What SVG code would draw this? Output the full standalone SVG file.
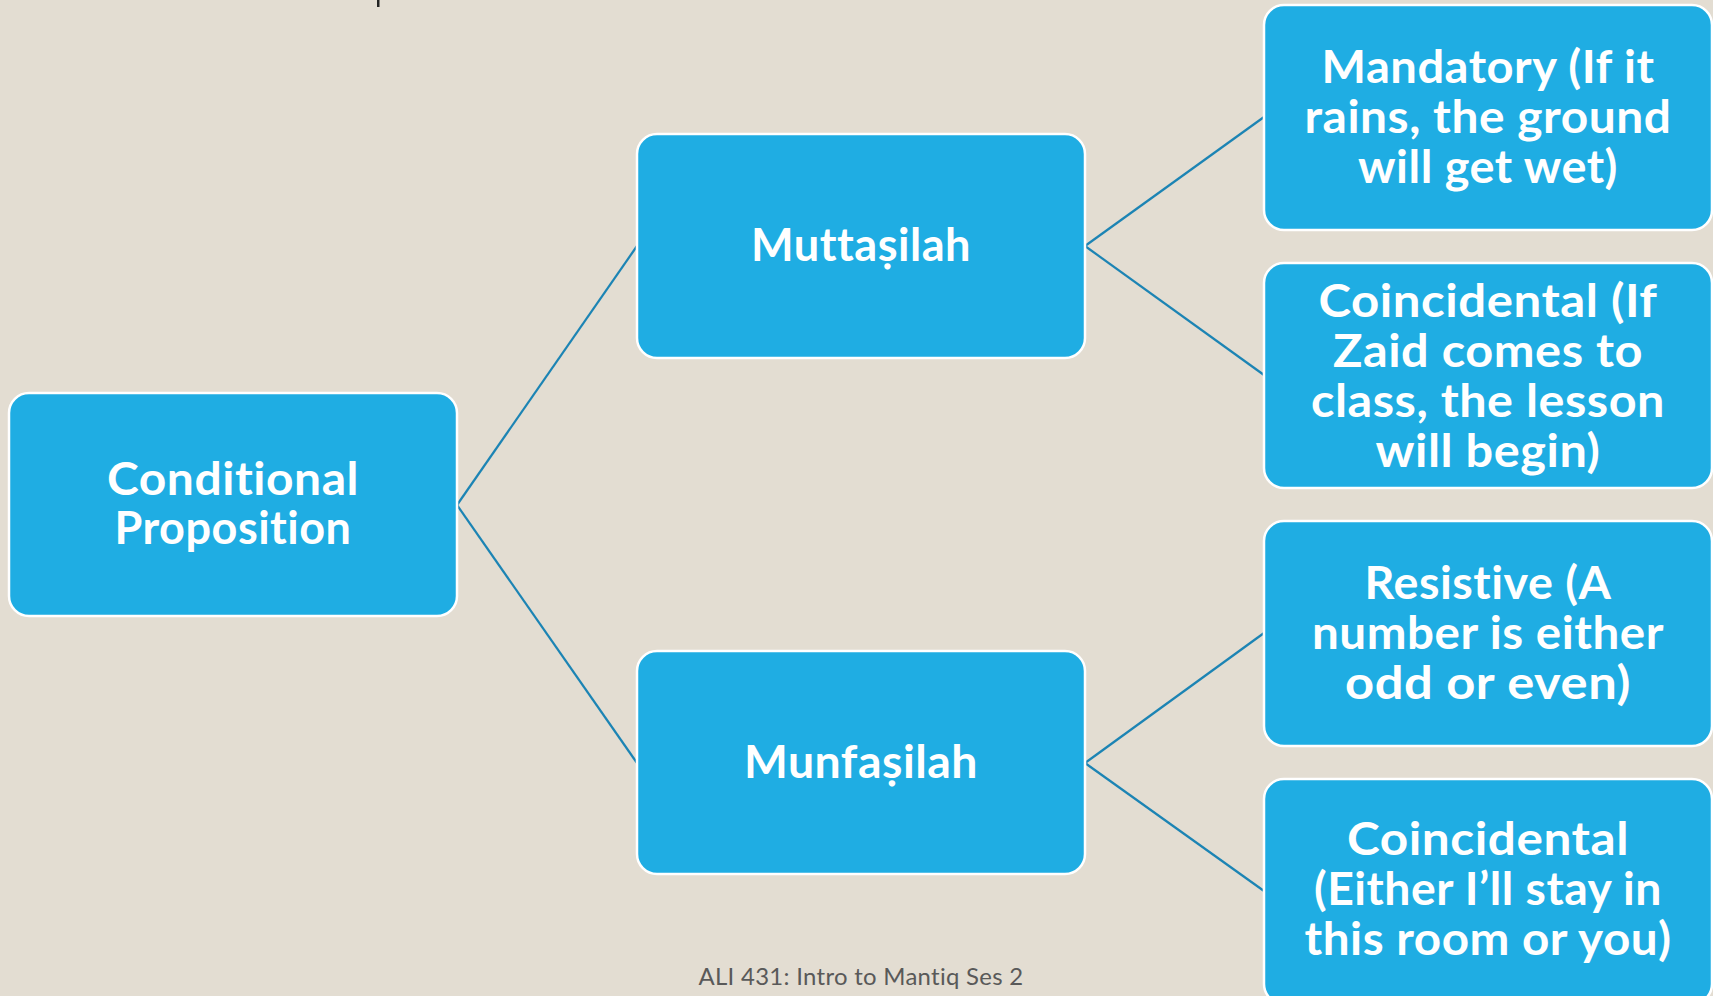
<svg xmlns="http://www.w3.org/2000/svg" width="1713" height="996" viewBox="0 0 1713 996">
<style>
.box{fill:#1FADE3;stroke:#FFFFFF;stroke-width:2.5}
.lbl{font-family:Lato,"Liberation Sans",sans-serif;font-weight:bold;font-size:45px;fill:#FFFFFF;text-anchor:middle;letter-spacing:0.5px;font-variant-ligatures:none;font-feature-settings:"liga" 0,"clig" 0,"calt" 0,"dlig" 0}
.conn line{stroke:#1C84B4;stroke-width:2.2;fill:none}
.foot{font-family:Lato,"Liberation Sans",sans-serif;font-size:24px;fill:#595959;text-anchor:middle;letter-spacing:0.3px;font-variant-ligatures:none}
</style>
<rect x="0" y="0" width="1713" height="996" fill="#E3DDD2"/>
<rect x="377" y="0" width="2.5" height="7" fill="#222222"/>
<g id="connectors" class="conn">
<line x1="457" y1="505" x2="637" y2="246"/>
<line x1="457" y1="505" x2="637" y2="763"/>
<line x1="1085" y1="246" x2="1264" y2="117"/>
<line x1="1085" y1="246" x2="1264" y2="375"/>
<line x1="1085" y1="763" x2="1264" y2="633"/>
<line x1="1085" y1="763" x2="1264" y2="891"/>
</g>
<g id="node-conditional">
<rect class="box" x="9" y="393" width="448" height="223" rx="20"/>
<text class="lbl"><tspan x="233" y="495" textLength="252" lengthAdjust="spacingAndGlyphs">Conditional</tspan><tspan x="233" y="544" textLength="237" lengthAdjust="spacingAndGlyphs">Proposition</tspan></text>
</g>
<g id="node-muttasilah">
<rect class="box" x="637" y="134" width="448" height="224" rx="20"/>
<text class="lbl" x="861" y="261" textLength="220" lengthAdjust="spacingAndGlyphs">Muttaṣilah</text>
</g>
<g id="node-munfasilah">
<rect class="box" x="637" y="651" width="448" height="223" rx="20"/>
<text class="lbl" x="861" y="778" textLength="234" lengthAdjust="spacingAndGlyphs">Munfaṣilah</text>
</g>
<g id="node-mandatory">
<rect class="box" x="1264" y="5" width="448" height="225" rx="20"/>
<text class="lbl"><tspan x="1488" y="83" textLength="333" lengthAdjust="spacingAndGlyphs">Mandatory (If it</tspan><tspan x="1488" y="133" textLength="367" lengthAdjust="spacingAndGlyphs">rains, the ground</tspan><tspan x="1488" y="183" textLength="260" lengthAdjust="spacingAndGlyphs">will get wet)</tspan></text>
</g>
<g id="node-coincidental-1">
<rect class="box" x="1264" y="263" width="448" height="225" rx="20"/>
<text class="lbl"><tspan x="1488" y="317" textLength="339" lengthAdjust="spacingAndGlyphs">Coincidental (If</tspan><tspan x="1488" y="367" textLength="310" lengthAdjust="spacingAndGlyphs">Zaid comes to</tspan><tspan x="1488" y="417" textLength="354" lengthAdjust="spacingAndGlyphs">class, the lesson</tspan><tspan x="1488" y="467" textLength="225" lengthAdjust="spacingAndGlyphs">will begin)</tspan></text>
</g>
<g id="node-resistive">
<rect class="box" x="1264" y="521" width="448" height="225" rx="20"/>
<text class="lbl"><tspan x="1488" y="599" textLength="247" lengthAdjust="spacingAndGlyphs">Resistive (A</tspan><tspan x="1488" y="649" textLength="352" lengthAdjust="spacingAndGlyphs">number is either</tspan><tspan x="1488" y="699" textLength="286" lengthAdjust="spacingAndGlyphs">odd or even)</tspan></text>
</g>
<g id="node-coincidental-2">
<rect class="box" x="1264" y="779" width="448" height="225" rx="20"/>
<text class="lbl"><tspan x="1488" y="855" textLength="282" lengthAdjust="spacingAndGlyphs">Coincidental</tspan><tspan x="1488" y="905" textLength="348" lengthAdjust="spacingAndGlyphs">(Either I’ll stay in</tspan><tspan x="1488" y="955" textLength="367" lengthAdjust="spacingAndGlyphs">this room or you)</tspan></text>
</g>
<text class="foot" x="861" y="985" textLength="325" lengthAdjust="spacingAndGlyphs">ALI 431: Intro to Mantiq Ses 2</text>
</svg>
